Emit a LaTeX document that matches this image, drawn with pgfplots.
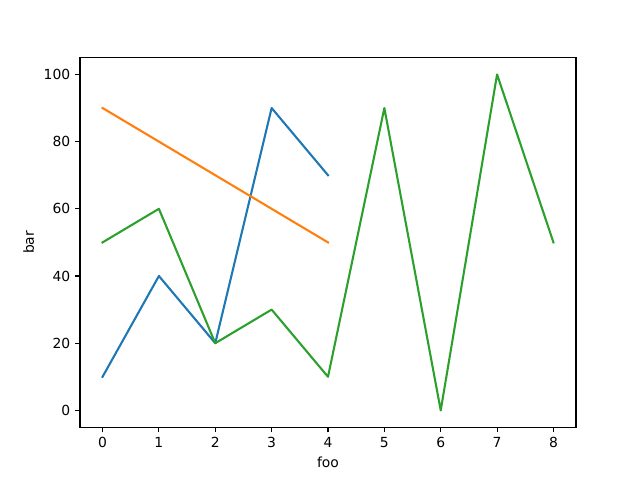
\documentclass[border=0pt]{standalone}
\usepackage{fontspec}
\setmainfont{DejaVu Sans}
\usepackage{pgfplots}
\pgfplotsset{compat=1.18}
\definecolor{c0}{HTML}{1F77B4}
\definecolor{c1}{HTML}{FF7F0E}
\definecolor{c2}{HTML}{2CA02C}
\begin{document}
\begin{tikzpicture}
\path[use as bounding box] (-57.6pt,-38.016pt) rectangle (403.2pt,307.584pt);
\begin{axis}[
    scale only axis,
    width=357.12pt,
    height=266.112pt,
    xmin=-0.4, xmax=8.4,
    ymin=-5, ymax=105,
    xtick={0,1,...,8},
    ytick={0,20,...,100},
    tick align=outside,
    major tick length=3.5pt,
    tick style={black, line width=0.8pt},
    axis line style={line width=0.8pt},
    xtick pos=bottom, ytick pos=left,
    tick label style={font=\fontsize{10}{12}\selectfont},
    label style={font=\fontsize{10}{12}\selectfont},
    /pgf/number format/assume math mode=true,
    xlabel={foo}, ylabel={bar},
    every axis plot/.append style={line width=1.5pt, no markers, line join=round, line cap=rect},
]
\addplot[c0] coordinates {(0,10) (1,40) (2,20) (3,90) (4,70)};
\addplot[c1] coordinates {(0,90) (1,80) (2,70) (3,60) (4,50)};
\addplot[c2] coordinates {(0,50) (1,60) (2,20) (3,30) (4,10) (5,90) (6,0) (7,100) (8,50)};
\end{axis}
\end{tikzpicture}
\end{document}
